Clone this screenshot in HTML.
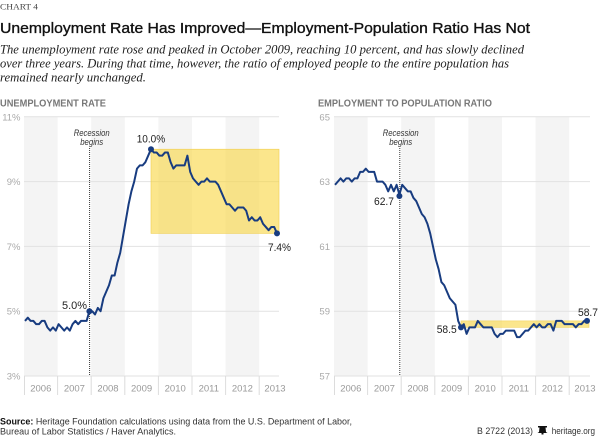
<!DOCTYPE html>
<html><head><meta charset="utf-8"><style>
html,body{margin:0;padding:0;background:#fff;}
svg{display:block;}
</style></head><body>
<svg width="600" height="439" viewBox="0 0 600 439" xmlns="http://www.w3.org/2000/svg" font-family="Liberation Sans, sans-serif">
<rect width="600" height="439" fill="#fff"/>
<!-- header -->
<text x="0" y="9.3" font-family="Liberation Serif, serif" font-size="8.5" fill="#444" textLength="38" lengthAdjust="spacingAndGlyphs">CHART 4</text>
<text x="0" y="33" font-size="15" fill="#111" stroke="#111" stroke-width="0.35" textLength="530" lengthAdjust="spacingAndGlyphs">Unemployment Rate Has Improved—Employment-Population Ratio Has Not</text>
<g font-family="Liberation Serif, serif" font-style="italic" font-size="12.5" fill="#222">
<text x="0" y="53.5" textLength="524" lengthAdjust="spacingAndGlyphs">The unemployment rate rose and peaked in October 2009, reaching 10 percent, and has slowly declined</text>
<text x="0" y="67.7" textLength="509" lengthAdjust="spacingAndGlyphs">over three years. During that time, however, the ratio of employed people to the entire population has</text>
<text x="0" y="81.7" textLength="146" lengthAdjust="spacingAndGlyphs">remained nearly unchanged.</text>
</g>
<g font-size="10" font-weight="bold" fill="#777">
<text x="0" y="106.7" textLength="106" lengthAdjust="spacingAndGlyphs">UNEMPLOYMENT RATE</text>
<text x="318" y="106.7" textLength="174" lengthAdjust="spacingAndGlyphs">EMPLOYMENT TO POPULATION RATIO</text>
</g>

<!-- LEFT CHART -->
<g>
<rect x="24" y="116.8" width="33.6" height="259.2" fill="#f4f4f4"/>
<rect x="91.2" y="116.8" width="33.6" height="259.2" fill="#f4f4f4"/>
<rect x="158.4" y="116.8" width="33.6" height="259.2" fill="#f4f4f4"/>
<rect x="225.6" y="116.8" width="33.6" height="259.2" fill="#f4f4f4"/>
<g stroke="#e2e2e2" stroke-width="1">
<line x1="24" y1="116.8" x2="279" y2="116.8"/>
<line x1="24" y1="181.6" x2="279" y2="181.6"/>
<line x1="24" y1="246.4" x2="279" y2="246.4"/>
<line x1="24" y1="311.2" x2="279" y2="311.2"/>
<line x1="24" y1="376" x2="279" y2="376"/>
</g>
<g stroke="#dcdcdc" stroke-width="1">
<line x1="24.5" y1="376" x2="24.5" y2="395"/>
<line x1="57.6" y1="376" x2="57.6" y2="395"/>
<line x1="91.2" y1="376" x2="91.2" y2="395"/>
<line x1="124.8" y1="376" x2="124.8" y2="395"/>
<line x1="158.4" y1="376" x2="158.4" y2="395"/>
<line x1="192" y1="376" x2="192" y2="395"/>
<line x1="225.6" y1="376" x2="225.6" y2="395"/>
<line x1="259.2" y1="376" x2="259.2" y2="395"/>
</g>
<g font-size="9.5" fill="#aaa" text-anchor="end">
<text x="20.5" y="120.3">11%</text>
<text x="20.5" y="185.1">9%</text>
<text x="20.5" y="249.9">7%</text>
<text x="20.5" y="314.7">5%</text>
<text x="20.5" y="379.5">3%</text>
</g>
<g font-size="9.5" fill="#999" text-anchor="middle">
<text x="40.8" y="391.5">2006</text>
<text x="74.4" y="391.5">2007</text>
<text x="108" y="391.5">2008</text>
<text x="141.6" y="391.5">2009</text>
<text x="175.2" y="391.5">2010</text>
<text x="208.8" y="391.5">2011</text>
<text x="242.4" y="391.5">2012</text>
<text x="275" y="391.5">2013</text>
</g>
<rect x="151" y="149.2" width="128" height="84.2" fill="#f8d640" fill-opacity="0.6" stroke="#f0cf50" stroke-width="0.6"/>
<line x1="89.6" y1="148" x2="89.6" y2="376" stroke="#333" stroke-width="1" stroke-dasharray="1,1"/>
<g font-size="8.8" font-style="italic" fill="#333" text-anchor="middle">
<text x="91.7" y="136" textLength="36" lengthAdjust="spacingAndGlyphs">Recession</text>
<text x="91.7" y="145" textLength="23" lengthAdjust="spacingAndGlyphs">begins</text>
</g>
<polyline fill="none" stroke="#183c80" stroke-width="2" stroke-linejoin="round" vector-effect="non-scaling-stroke" transform="matrix(2.8 0 0 -32.4 25 473.2)"
points="0,4.7 1,4.8 2,4.7 3,4.7 4,4.6 5,4.6 6,4.7 7,4.7 8,4.5 9,4.4 10,4.5 11,4.4 12,4.6 13,4.5 14,4.4 15,4.5 16,4.4 17,4.6 18,4.7 19,4.6 20,4.7 21,4.7 22,4.7 23,5.0 24,5.0 25,4.9 26,5.1 27,5.0 28,5.4 29,5.6 30,5.8 31,6.1 32,6.1 33,6.5 34,6.8 35,7.3 36,7.8 37,8.3 38,8.7 39,9.0 40,9.4 41,9.5 42,9.5 43,9.6 44,9.8 45,10.0 46,9.9 47,9.9 48,9.8 49,9.8 50,9.9 51,9.9 52,9.6 53,9.4 54,9.5 55,9.5 56,9.5 57,9.5 58,9.8 59,9.3 60,9.1 61,9.0 62,8.9 63,9.0 64,9.0 65,9.1 66,9.0 67,9.0 68,9.0 69,8.9 70,8.7 71,8.5 72,8.3 73,8.3 74,8.2 75,8.1 76,8.2 77,8.2 78,8.2 79,8.1 80,7.8 81,7.9 82,7.8 83,7.8 84,7.9 85,7.7 86,7.6 87,7.5 88,7.6 89,7.6 90,7.4"/>
<g fill="#183c80">
<circle cx="151" cy="149.2" r="3"/>
<circle cx="89.4" cy="311.2" r="3"/>
<circle cx="277" cy="233.4" r="3"/>
</g>
<g font-size="11" fill="#222">
<text x="136.7" y="142.7" textLength="28.5" lengthAdjust="spacingAndGlyphs">10.0%</text>
<text x="62" y="309" textLength="25" lengthAdjust="spacingAndGlyphs">5.0%</text>
<text x="268" y="251" textLength="23" lengthAdjust="spacingAndGlyphs">7.4%</text>
</g>
</g>

<!-- RIGHT CHART -->
<g>
<rect x="334" y="116.8" width="33.6" height="259.2" fill="#f4f4f4"/>
<rect x="401.2" y="116.8" width="33.6" height="259.2" fill="#f4f4f4"/>
<rect x="468.4" y="116.8" width="33.6" height="259.2" fill="#f4f4f4"/>
<rect x="535.6" y="116.8" width="33.6" height="259.2" fill="#f4f4f4"/>
<g stroke="#e2e2e2" stroke-width="1">
<line x1="334" y1="116.8" x2="590" y2="116.8"/>
<line x1="334" y1="181.6" x2="590" y2="181.6"/>
<line x1="334" y1="246.4" x2="590" y2="246.4"/>
<line x1="334" y1="311.2" x2="590" y2="311.2"/>
<line x1="334" y1="376" x2="590" y2="376"/>
</g>
<g stroke="#dcdcdc" stroke-width="1">
<line x1="334.5" y1="376" x2="334.5" y2="395"/>
<line x1="367.6" y1="376" x2="367.6" y2="395"/>
<line x1="401.2" y1="376" x2="401.2" y2="395"/>
<line x1="434.8" y1="376" x2="434.8" y2="395"/>
<line x1="468.4" y1="376" x2="468.4" y2="395"/>
<line x1="502" y1="376" x2="502" y2="395"/>
<line x1="535.6" y1="376" x2="535.6" y2="395"/>
<line x1="569.2" y1="376" x2="569.2" y2="395"/>
</g>
<g font-size="9.5" fill="#aaa" text-anchor="end">
<text x="330" y="120.3">65</text>
<text x="330" y="185.1">63</text>
<text x="330" y="249.9">61</text>
<text x="330" y="314.7">59</text>
<text x="330" y="379.5">57</text>
</g>
<g font-size="9.5" fill="#999" text-anchor="middle">
<text x="350.8" y="391.5">2006</text>
<text x="384.4" y="391.5">2007</text>
<text x="418" y="391.5">2008</text>
<text x="451.6" y="391.5">2009</text>
<text x="485.2" y="391.5">2010</text>
<text x="518.8" y="391.5">2011</text>
<text x="552.4" y="391.5">2012</text>
<text x="585" y="391.5">2013</text>
</g>
<rect x="461" y="320.9" width="128" height="6.5" fill="#f8d640" fill-opacity="0.6" stroke="#f0cf50" stroke-width="0.5"/>
<line x1="399.8" y1="148" x2="399.8" y2="376" stroke="#333" stroke-width="1" stroke-dasharray="1,1"/>
<g font-size="8.8" font-style="italic" fill="#333" text-anchor="middle">
<text x="400.7" y="136" textLength="36" lengthAdjust="spacingAndGlyphs">Recession</text>
<text x="400.7" y="145" textLength="23" lengthAdjust="spacingAndGlyphs">begins</text>
</g>
<polyline fill="none" stroke="#183c80" stroke-width="2" stroke-linejoin="round" vector-effect="non-scaling-stroke" transform="matrix(2.8 0 0 -32.4 335 2222.8)"
points="0,62.9 1,63.0 2,63.1 3,63.0 4,63.1 5,63.1 6,63.0 7,63.1 8,63.1 9,63.3 10,63.3 11,63.4 12,63.3 13,63.3 14,63.3 15,63.0 16,63.0 17,63.0 18,62.9 19,62.7 20,62.9 21,62.7 22,62.9 23,62.6 24,62.9 25,62.8 26,62.7 27,62.7 28,62.5 29,62.4 30,62.2 31,62.0 32,61.9 33,61.7 34,61.4 35,61.0 36,60.6 37,60.3 38,59.9 39,59.8 40,59.6 41,59.4 42,59.3 43,59.2 44,58.7 45,58.5 46,58.6 47,58.3 48,58.5 49,58.5 50,58.5 51,58.7 52,58.6 53,58.5 54,58.5 55,58.5 56,58.5 57,58.3 58,58.2 59,58.3 60,58.3 61,58.4 62,58.4 63,58.4 64,58.4 65,58.2 66,58.2 67,58.3 68,58.4 69,58.4 70,58.5 71,58.6 72,58.5 73,58.6 74,58.5 75,58.5 76,58.6 77,58.6 78,58.4 79,58.7 80,58.7 81,58.7 82,58.6 83,58.6 84,58.6 85,58.6 86,58.5 87,58.6 88,58.6 89,58.7 90,58.7"/>
<g fill="#183c80">
<circle cx="461" cy="327.4" r="3"/>
<circle cx="399.4" cy="196" r="3"/>
<circle cx="587" cy="320.9" r="3"/>
</g>
<g font-size="11" fill="#222">
<text x="374" y="205" textLength="20" lengthAdjust="spacingAndGlyphs">62.7</text>
<text x="436.7" y="333" textLength="20" lengthAdjust="spacingAndGlyphs">58.5</text>
<text x="578" y="316" textLength="20" lengthAdjust="spacingAndGlyphs">58.7</text>
</g>
</g>

<!-- footer -->
<g font-size="9" fill="#333">
<text x="0" y="424.7" textLength="352" lengthAdjust="spacingAndGlyphs"><tspan font-weight="bold" fill="#111">Source:</tspan> Heritage Foundation calculations using data from the U.S. Department of Labor,</text>
<text x="0" y="434.7" textLength="176" lengthAdjust="spacingAndGlyphs">Bureau of Labor Statistics / Haver Analytics.</text>
<text x="477" y="434" textLength="56" lengthAdjust="spacingAndGlyphs">B 2722 (2013)</text>
<text x="551.7" y="434" textLength="43.3" lengthAdjust="spacingAndGlyphs">heritage.org</text>
</g>
<g fill="#111">
<rect x="538" y="426" width="9" height="1.5"/>
<path d="M539.5,427.5 L545.5,427.5 L546,432 L547.5,433 L537.5,433 L539,432 Z"/>
<rect x="541.5" y="433" width="2" height="1.5"/>
</g>
</svg>
</body></html>
